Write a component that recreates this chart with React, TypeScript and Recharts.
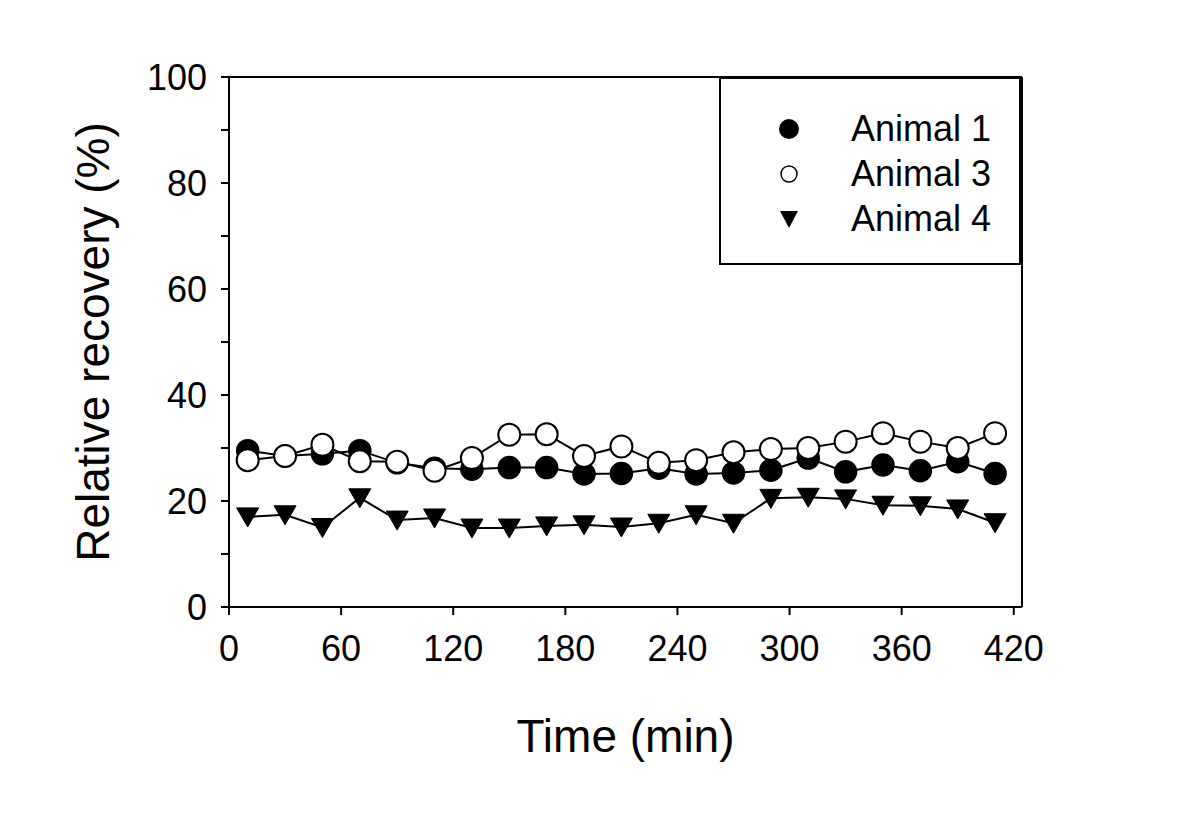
import React from 'react';
import { LineChart, Line, XAxis, YAxis, ReferenceLine } from 'recharts';

// sampling times (min)
const times = [10, 30, 50, 70, 90, 110, 130, 150, 170, 190, 210, 230, 250, 270, 290, 310, 330, 350, 370, 390, 410];

// relative recovery (%)
const animal1 = [29.5, 28.5, 28.9, 29.5, 27.2, 26.2, 26.0, 26.3, 26.3, 25.1, 25.2, 26.2, 25.1, 25.3, 25.8, 28.1, 25.5, 26.8, 25.7, 27.4, 25.2];
const animal3 = [27.7, 28.5, 30.6, 27.5, 27.4, 25.7, 28.1, 32.5, 32.6, 28.5, 30.3, 27.2, 27.7, 29.2, 29.8, 30.0, 31.2, 32.8, 31.2, 30.0, 32.8];
const animal4 = [17.0, 17.4, 15.0, 20.6, 16.4, 16.8, 14.9, 14.9, 15.3, 15.5, 15.1, 15.8, 17.4, 15.8, 20.5, 20.7, 20.4, 19.2, 19.1, 18.5, 15.9];

const xTicks = [0, 60, 120, 180, 240, 300, 360, 420];
const yTicks = [0, 10, 20, 30, 40, 50, 60, 70, 80, 90, 100];

const seriesNames = ['Animal 1', 'Animal 3', 'Animal 4'];

const data = times.map((t, i) => ({
  time: t,
  a1: animal1[i],
  a3: animal3[i],
  a4: animal4[i],
}));

const FONT = '"Liberation Sans", Arial, sans-serif';

const filledDot = (p: any) => (
  <circle key={`f-${p.index}`} cx={p.cx} cy={p.cy} r={11} fill="#000" stroke="#000" strokeWidth={1.5} />
);
const openDot = (p: any) => (
  <circle key={`o-${p.index}`} cx={p.cx} cy={p.cy} r={11} fill="#fff" stroke="#000" strokeWidth={2} />
);
const triDot = (p: any) => (
  <path
    key={`t-${p.index}`}
    d={`M${p.cx - 11},${p.cy - 9} L${p.cx + 11},${p.cy - 9} L${p.cx},${p.cy + 10} Z`}
    fill="#000"
    stroke="#000"
    strokeWidth={1}
  />
);

const LegendSymbol = ({ idx }: { idx: number }) => (
  <svg width={24} height={24} style={{ display: 'block' }}>
    {idx === 0 && <circle cx={12} cy={12} r={10} fill="#000" />}
    {idx === 1 && <circle cx={12} cy={12} r={8} fill="#fff" stroke="#000" strokeWidth={1.5} />}
    {idx === 2 && <path d="M3,4 L21,4 L12,21 Z" fill="#000" />}
  </svg>
);

// legend box sits over the top-right corner of the plot frame
const LegendBox = () => (
  <div
    style={{
      position: 'absolute',
      left: 719,
      top: 77,
      width: 302,
      height: 188,
      border: '2px solid #000',
      boxSizing: 'border-box',
      background: '#fff',
      paddingTop: 27,
      fontFamily: FONT,
      fontSize: 36,
      color: '#000',
    }}
  >
    {seriesNames.map((name, i) => (
      <div key={name} style={{ display: 'flex', alignItems: 'center', height: 45 }}>
        <div style={{ width: 56 }} />
        <LegendSymbol idx={i} />
        <div style={{ marginLeft: 50, lineHeight: '45px' }}>{name}</div>
      </div>
    ))}
  </div>
);

const axisStroke = { stroke: '#000', strokeWidth: 2 };

export default function App() {
  return (
    <div style={{ position: 'absolute', left: 0, top: 0, width: 1200, height: 832, background: '#fff' }}>
      <LineChart
        width={1200}
        height={832}
        data={data}
        margin={{ top: 77, right: 178, bottom: 0, left: 0 }}
        style={{ fontFamily: FONT }}
      >
        <XAxis
          dataKey="time"
          type="number"
          domain={[0, 424.4]}
          ticks={xTicks}
          height={225}
          tickSize={8}
          tickMargin={20}
          axisLine={axisStroke}
          tickLine={axisStroke}
          tick={{ fill: '#000', fontSize: 36, fontFamily: FONT }}
          label={{ value: 'Time (min)', position: 'insideBottom', offset: 80, fill: '#000', fontSize: 46, fontFamily: FONT }}
        />
        <YAxis
          type="number"
          domain={[0, 100]}
          ticks={yTicks}
          width={229}
          tickSize={8}
          tickMargin={14}
          axisLine={axisStroke}
          tickLine={axisStroke}
          tickFormatter={(v: number) => (v % 20 === 0 ? String(v) : '')}
          tick={{ fill: '#000', fontSize: 36, fontFamily: FONT }}
          label={{ value: 'Relative recovery (%)', angle: -90, position: 'insideLeft', offset: 93, fill: '#000', fontSize: 46, fontFamily: FONT, style: { textAnchor: 'middle' } }}
        />
        <ReferenceLine y={100} stroke="#000" strokeWidth={2} />
        <ReferenceLine x={424.4} stroke="#000" strokeWidth={2} />
        <Line dataKey="a4" name="Animal 4" stroke="#000" strokeWidth={2} dot={triDot} isAnimationActive={false} />
        <Line dataKey="a1" name="Animal 1" stroke="#000" strokeWidth={2} dot={filledDot} isAnimationActive={false} />
        <Line dataKey="a3" name="Animal 3" stroke="#000" strokeWidth={2} dot={openDot} isAnimationActive={false} />
      </LineChart>
      <LegendBox />
    </div>
  );
}
